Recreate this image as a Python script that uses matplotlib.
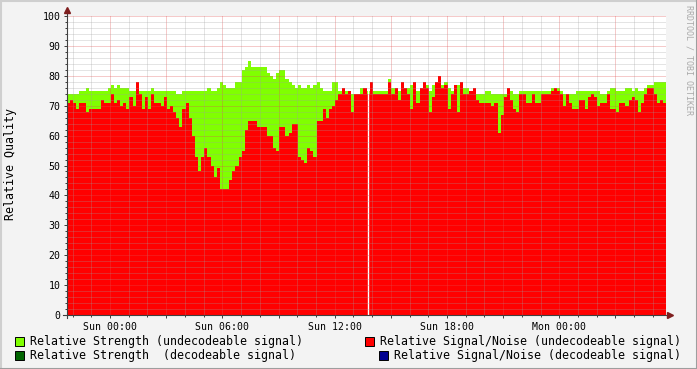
import numpy as np
import matplotlib
matplotlib.use('Agg')
import matplotlib.pyplot as plt
from matplotlib.patches import Rectangle
from matplotlib.lines import Line2D

# samples every 10 minutes, time in hours relative to Sun 00:00
t_start = -2.3
t_step = 1.0 / 6

strength_undec = [
    74, 74, 74, 74, 75, 75, 76, 75, 75, 75, 75, 75, 75, 76, 77, 76, 77, 76, 76, 76,
    75, 75, 77, 75, 75, 75, 75, 76, 75, 75, 75, 75, 75, 75, 75, 74, 74, 75,
    75, 75, 75, 75, 75, 75, 75, 76, 75, 75, 76, 78, 77, 76, 76, 76, 78, 78, 82, 83,
    85, 83, 83, 83, 83, 83, 81, 80, 79, 81, 82, 82, 79, 78, 77, 76, 77, 76, 76,
    77, 76, 77, 78, 76, 75, 75, 75, 78, 78, 75, 76, 75, 75, 74, 74, 74, 76, 76, 75,
    78, 75, 75, 75, 75, 75, 79, 76, 76, 75, 78, 76, 76, 77, 78, 75, 76, 78,
    77, 75, 77, 78, 80, 77, 78, 76, 75, 75, 77, 78, 76, 76, 75, 76, 74, 74, 74, 75,
    75, 74, 74, 74, 74, 74, 76, 75, 74, 74, 75, 75, 75, 75, 75, 75, 75, 75,
    75, 75, 76, 76, 76, 75, 74, 74, 74, 74, 75, 75, 75, 75, 75, 75, 75, 75, 74, 74,
    75, 76, 76, 75, 75, 75, 76, 76, 75, 76, 75, 75, 76, 77, 77, 78, 78, 78, 78,
]

snr_undec = [
    71, 72, 71, 69, 71, 71, 68, 69, 69, 69, 69, 72, 71, 71, 74, 71, 72, 70, 71, 69,
    73, 70, 78, 74, 69, 73, 69, 74, 71, 71, 70, 73, 69, 70, 68, 66, 63, 69,
    71, 66, 60, 53, 48, 53, 56, 53, 50, 46, 49, 42, 42, 42, 45, 48, 50, 53, 55, 62,
    65, 65, 65, 63, 63, 63, 60, 60, 56, 55, 63, 63, 60, 61, 64, 64, 53, 52, 51,
    56, 55, 53, 65, 65, 69, 66, 69, 70, 72, 74, 76, 74, 75, 68, 74, 74, 74, 76, 74,
    78, 74, 74, 74, 74, 74, 78, 74, 76, 72, 78, 76, 74, 69, 78, 71, 76, 78,
    76, 68, 73, 78, 80, 76, 77, 69, 74, 77, 68, 78, 74, 74, 75, 76, 72, 71, 71, 71,
    71, 70, 71, 61, 67, 73, 76, 72, 69, 68, 74, 74, 71, 71, 74, 71, 71, 74,
    74, 74, 75, 76, 75, 74, 70, 74, 71, 69, 69, 72, 72, 69, 73, 74, 73, 70, 71, 71,
    74, 69, 69, 68, 71, 71, 70, 72, 73, 72, 68, 71, 74, 76, 76, 74, 71, 72, 71,
]

# unknown sample (drawn as a white gap)
gap_hours = [13.76]

x_label_hours = [0, 6, 12, 18, 24]
x_labels = ['Sun 00:00', 'Sun 06:00', 'Sun 12:00', 'Sun 18:00', 'Mon 00:00']

legend_items = [
    ('Relative Strength (undecodeable signal)', '#80FF00'),
    ('Relative Signal/Noise (undecodeable signal)', '#FF0000'),
    ('Relative Strength  (decodeable signal)', '#006400'),
    ('Relative Signal/Noise (decodeable signal)', '#000090'),
]

W, H = 697, 369
MONO = 'DejaVu Sans Mono'
plt.rcParams['font.family'] = MONO


def fx(x):
    return x / W


def fy(y):
    return 1 - y / H


fig = plt.figure(figsize=(W / 100, H / 100), dpi=100, facecolor='#F3F3F3')
ax = fig.add_axes([fx(67), fy(315), (666 - 67) / W, (315 - 16) / H])
ax.set_facecolor('white')

n = len(snr_undec)
t = t_start + np.arange(n + 1) * t_step
strength = np.append(strength_undec, strength_undec[-1])
snr = np.append(snr_undec, snr_undec[-1])

ax.fill_between(t, 0, strength, step='post', color=legend_items[0][1], lw=0, zorder=1)
ax.fill_between(t, 0, snr, step='post', color=legend_items[1][1], lw=0, zorder=1.1)
for g in gap_hours:
    ax.axvline(g, color='white', lw=1.0, zorder=1.5)

ax.set_xlim(t[0], t[-1])
ax.set_ylim(0, 100)

# grid: minor every hour / 2 units, major every 3 hours / 10 units
major_x = np.arange(0, t[-1], 3)
minor_x = np.arange(np.ceil(t[0]), t[-1], 1)
ax.set_xticks(major_x)
ax.set_xticks(minor_x, minor=True)
ax.set_xticklabels([x_labels[x_label_hours.index(h)] if h in x_label_hours else ''
                    for h in major_x])
ax.set_yticks(np.arange(0, 101, 10))
ax.set_yticks(np.arange(0, 101, 2), minor=True)
ax.set_axisbelow(False)
ax.grid(which='minor', color='#A0A0A0', alpha=0.55, lw=0.72, ls=(0, (1, 1)))
ax.grid(which='major', color='#DE5050', alpha=0.6, lw=0.72, ls=(0, (1, 1)))

for s in ax.spines.values():
    s.set_visible(False)
ax.tick_params(which='both', direction='out', color='#404040', width=0.72,
               labelsize=7.1)
ax.tick_params(which='major', length=2.2)
ax.tick_params(which='minor', length=1.4)
ax.tick_params(axis='x', pad=2.5)
ax.tick_params(axis='y', pad=2.5)

# axes with arrows
fig.add_artist(Line2D([fx(67), fx(67)], [fy(318), fy(10)], color='#404040', lw=0.8))
fig.add_artist(Line2D([fx(63), fx(670)], [fy(315), fy(315)], color='#404040', lw=0.8))
fig.add_artist(Line2D([fx(67)], [fy(10)], marker='^', ms=4, color='#7F1F1F', lw=0))
fig.add_artist(Line2D([fx(670)], [fy(315)], marker='>', ms=4, color='#7F1F1F', lw=0))

fig.text(fx(11), fy(164), 'Relative Quality', rotation=90, ha='center', va='center',
         fontsize=8.4)
fig.text(fx(689), fy(5), 'RRDTOOL / TOBI OETIKER', rotation=270, ha='center', va='top',
         fontsize=6, color='#AAAAAA')

# legend
rows = [(341, 0, 15, 30), (341, 1, None, None), (355, 2, 15, 30), (355, 3, None, None)]
for y, idx, bx, tx in rows:
    label, col = legend_items[idx]
    if bx is None:
        txt = fig.text(fx(681), fy(y), label, ha='right', va='center', fontsize=8.4)
        fig.canvas.draw()
        bb = txt.get_window_extent()
        bx = bb.x0 - 15
        fig.add_artist(Rectangle((bx / W, fy(y) - 4.5 / H), 9 / W, 9 / H,
                                 facecolor=col, edgecolor='black', lw=0.7))
    else:
        fig.add_artist(Rectangle((fx(bx), fy(y) - 4.5 / H), 9 / W, 9 / H,
                                 facecolor=col, edgecolor='black', lw=0.7))
        fig.text(fx(tx), fy(y), label, ha='left', va='center', fontsize=8.4)

# 3d frame
fig.add_artist(Line2D([0, 1], [fy(0.5), fy(0.5)], color='#CFCFCF', lw=1.5))
fig.add_artist(Line2D([fx(0.5), fx(0.5)], [0, 1], color='#CFCFCF', lw=1.5))
fig.add_artist(Line2D([0, 1], [fy(368.5), fy(368.5)], color='#9E9E9E', lw=1.5))
fig.add_artist(Line2D([fx(696.5), fx(696.5)], [0, 1], color='#9E9E9E', lw=1.5))

fig.savefig('out.png', dpi=100, facecolor=fig.get_facecolor())
